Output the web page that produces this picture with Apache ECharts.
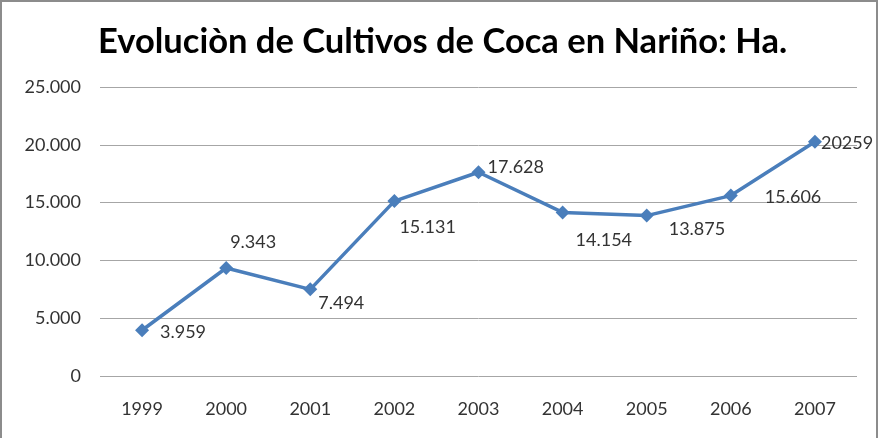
<!DOCTYPE html>
<html><head><meta charset="utf-8">
<script src="https://cdn.jsdelivr.net/npm/echarts@6/dist/echarts.min.js"></script>
<style>
html,body{margin:0;padding:0;background:#fff;}
#frame{position:absolute;left:0;top:0;width:878px;height:440px;border:2px solid #8c8c8c;border-bottom:none;box-sizing:border-box;}
#c{position:absolute;left:0;top:0;width:885px;height:438px;}
</style></head>
<body>
<div id="c"></div>
<div id="frame"></div>
<script>
const titleText = 'Evoluciòn de Cultivos de Coca en Nariño: Ha.';
const years = ['1999','2000','2001','2002','2003','2004','2005','2006','2007'];
const hectares = [3959, 9343, 7494, 15131, 17628, 14154, 13875, 15606, 20259];
const pointLabels = ['3.959','9.343','7.494','15.131','17.628','14.154','13.875','15.606','20259'];
const yTicks = [0, 5000, 10000, 15000, 20000, 25000];
const yTickLabels = ['0','5.000','10.000','15.000','20.000','25.000'];

// layout only: label offsets relative to default right-position
const labelOffsets = [[6,2],[-8,-26],[-4,14],[-7,26],[-3,-5],[1,28],[10,14],[22,2],[-6,1]];

const FONT = 'Lato';
const chart = echarts.init(document.getElementById('c'), null, {renderer:'canvas'});
chart.setOption({
  animation:false,
  backgroundColor:'#fff',
  title:{text:titleText,left:93,top:19,textStyle:{fontFamily:FONT,fontWeight:'bold',fontSize:34.5,color:'#000'}},
  grid:{left:100,right:28,top:87,bottom:62,containLabel:false},
  xAxis:{type:'category',data:years,boundaryGap:true,
    axisLine:{show:false},axisTick:{show:false},
    axisLabel:{fontFamily:FONT,fontSize:18,color:'#333',margin:24}},
  yAxis:{type:'value',min:yTicks[0],max:yTicks[yTicks.length-1],interval:yTicks[1]-yTicks[0],
    axisLine:{show:false},axisTick:{show:false},
    splitLine:{lineStyle:{color:'#a6a6a6',width:1}},
    axisLabel:{fontFamily:FONT,fontSize:18,color:'#333',margin:19,
      formatter:v=>yTickLabels[yTicks.indexOf(v)]}},
  series:[{type:'line',data:hectares.map((v,i)=>({value:v,label:{offset:labelOffsets[i]}})),
    symbol:'diamond',symbolSize:14,
    lineStyle:{color:'#4a7ebb',width:3.5},
    itemStyle:{color:'#4a7ebb'},
    label:{show:true,position:'right',distance:5,fontFamily:FONT,fontSize:18,color:'#333',
      formatter:p=>pointLabels[p.dataIndex]}}]
});
</script>
</body></html>
